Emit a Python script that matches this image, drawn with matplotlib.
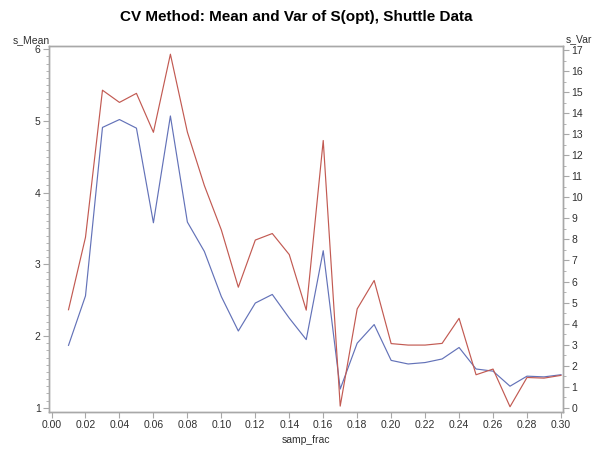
import numpy as np
import matplotlib
matplotlib.use("Agg")
import matplotlib.pyplot as plt
from matplotlib.ticker import MultipleLocator

plt.rcParams['font.family'] = ['Liberation Sans', 'DejaVu Sans']

# sampling fraction and CV results
samp_frac = [0.01, 0.02, 0.03, 0.04, 0.05, 0.06, 0.07, 0.08, 0.09, 0.10,
             0.11, 0.12, 0.13, 0.14, 0.15, 0.16, 0.17, 0.18, 0.19, 0.20,
             0.21, 0.22, 0.23, 0.24, 0.25, 0.26, 0.27, 0.28, 0.29, 0.30]
s_mean = [1.87, 2.56, 4.91, 5.02, 4.90, 3.58, 5.07, 3.59, 3.18, 2.55,
          2.07, 2.46, 2.58, 2.25, 1.95, 3.19, 1.26, 1.90, 2.16, 1.66,
          1.61, 1.63, 1.68, 1.84, 1.54, 1.51, 1.30, 1.44, 1.43, 1.46]
s_var = [4.66, 8.1, 15.09, 14.51, 14.94, 13.09, 16.8, 13.1, 10.56, 8.45,
         5.73, 7.97, 8.28, 7.28, 4.64, 12.70, 0.08, 4.70, 6.05, 3.05,
         2.98, 2.98, 3.06, 4.25, 1.57, 1.84, 0.05, 1.44, 1.41, 1.54]

spine_col = '#a8a8a8'
text_col = '#303030'

fig = plt.figure(figsize=(5.93, 4.55), dpi=100)
ax = fig.add_axes([0.0826, 0.0945, 0.8668, 0.8044])
ax2 = ax.twinx()

ax.plot(samp_frac, s_mean, color='#6372b8', lw=0.85)
ax2.plot(samp_frac, s_var, color='#c25a52', lw=0.85)

ax.set_xlim(-0.0015, 0.3012)
ax.set_ylim(0.94, 6.046)
ax2.set_ylim(-0.2, 17.19)

ax.xaxis.set_major_locator(MultipleLocator(0.02))
ax.xaxis.set_major_formatter(plt.FuncFormatter(lambda v, p: f"{v:.2f}"))
ax.yaxis.set_major_locator(MultipleLocator(1))
ax.yaxis.set_minor_locator(MultipleLocator(0.1))
ax2.yaxis.set_major_locator(MultipleLocator(1))
ax2.yaxis.set_minor_locator(MultipleLocator(0.5))

for a in (ax, ax2):
    for s in a.spines.values():
        s.set_color(spine_col)
        s.set_linewidth(1.0)
    a.tick_params(which='major', length=4, width=0.8, color=spine_col,
                  labelsize=7.5, labelcolor=text_col, pad=2)
    a.tick_params(which='minor', length=2, width=0.6, color=spine_col)

fig.text(0.5, 0.962, 'CV Method: Mean and Var of S(opt), Shuttle Data',
         ha='center', va='center', fontsize=11, fontweight='bold', color='black')
fig.text(0.052, 0.912, 's_Mean', ha='center', va='center', fontsize=7.5, color=text_col)
fig.text(0.976, 0.914, 's_Var', ha='center', va='center', fontsize=7.5, color=text_col)
fig.text(0.516, 0.033, 'samp_frac', ha='center', va='center', fontsize=7.5, color=text_col)

fig.savefig('out.png', dpi=100)
